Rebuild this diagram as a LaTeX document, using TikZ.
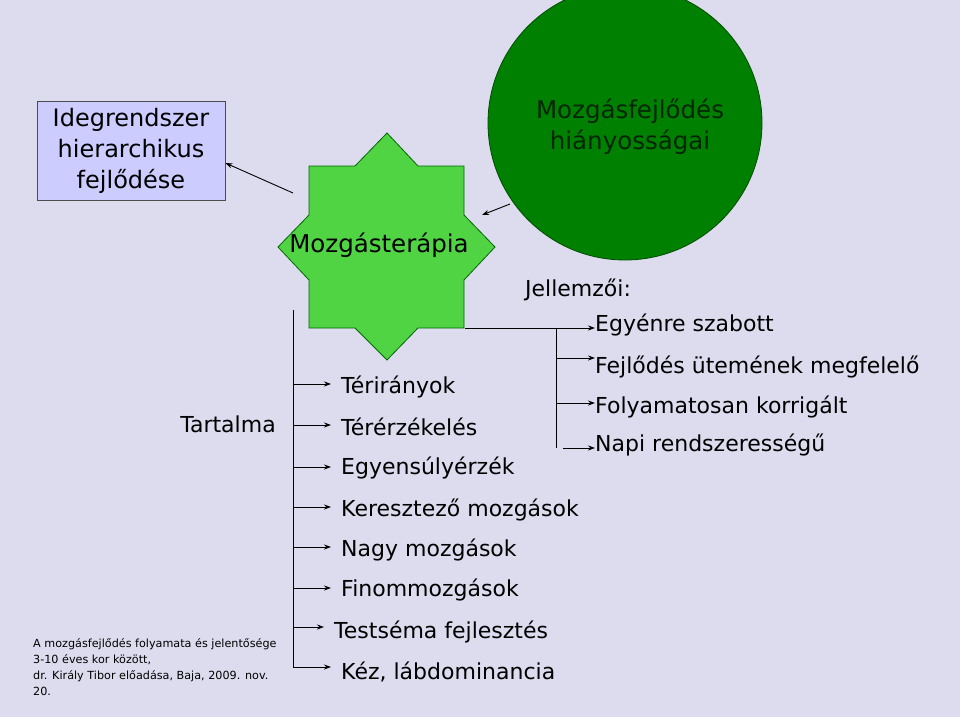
\documentclass[tikz,border=0pt]{standalone}
\usepackage{fontspec}
\setmainfont{DejaVu Sans}
\usetikzlibrary{arrows.meta}
\definecolor{bg}{HTML}{DCDCEE}
\definecolor{starf}{HTML}{50D444}
\definecolor{circf}{HTML}{008000}
\definecolor{boxf}{HTML}{CCCCFF}
\tikzset{
  lbl/.style={anchor=west,inner sep=0pt,font=\fontsize{22}{26}\selectfont},
  arr/.style={-{Stealth[length=7pt,width=5pt]},line width=0.9pt},
  plain/.style={line width=0.9pt},
}
\begin{document}
\begin{tikzpicture}[x=1pt,y=-1pt]
\fill[bg] (0,0) rectangle (960,717);
\useasboundingbox (0,0) rectangle (960,717);
\begin{scope}
\clip (0,0) rectangle (960,717);
\draw[fill=circf,draw=black!70!green,line width=0.8pt] (625,123) circle (137);
\end{scope}
\node[align=center,text=black!85!green,font=\fontsize{24.5}{31}\selectfont] (circ) at (630,127) {Mozgásfejlődés\\hiányosságai};
\draw[fill=starf,draw=black!60!green,line width=0.8pt]
 (387,133) -- (418,166) -- (464,166) -- (464,215) -- (495,247) -- (464,280) -- (464,328) -- (418,328) -- (387,360) -- (355,328) -- (309,328) -- (309,280) -- (278,247) -- (309,215) -- (309,166) -- (355,166) -- cycle;
\node[font=\fontsize{24.5}{28}\selectfont] (star) at (379,245) {Mozgásterápia};
\node[draw=black!70,fill=boxf,line width=0.8pt,minimum width=188pt,minimum height=99pt,align=center,font=\fontsize{24}{31}\selectfont] (box) at (131,151) {Idegrendszer\\hierarchikus\\fejlődése};
\coordinate (a1) at (293,193);
\draw[arr] (a1) -- (box.east |- 0,163) ;
\coordinate (a2) at (510,204);
\coordinate (a2e) at (482,215);
\draw[arr] (a2) -- (a2e);
\node[lbl] (jell) at (525,290) {Jellemzői:};
\node[lbl] (j1) at (595,325) {Egyénre szabott};
\node[lbl] (j2) at (595,367) {Fejlődés ütemének megfelelő};
\node[lbl] (j3) at (595,407) {Folyamatosan korrigált};
\node[lbl] (j4) at (595,445) {Napi rendszerességű};
\coordinate (s0) at (465,328);
\draw[arr] (s0) -- (j1.west |- 0,328);
\coordinate (v0) at (556,328); \coordinate (v1) at (556,448);
\draw[plain] (v0) -- (v1);
\draw[arr] (556,358) -- (j2.west |- 0,358);
\draw[arr] (556,403) -- (j3.west |- 0,403);
\draw[arr] (563,448) -- (j4.west |- 0,448);
\node[font=\fontsize{22}{26}\selectfont] (tart) at (228,424) {Tartalma};
\coordinate (l0) at (293,310); \coordinate (l1) at (293,667);
\draw[plain] (l0) -- (l1);
\foreach \n/\t/\y/\ay/\x in {t1/Térirányok/387/384/341, t2/Térérzékelés/427/425/341, t3/Egyensúlyérzék/468/467/341, t4/Keresztező mozgások/510/507/341, t5/Nagy mozgások/550/547/341, t6/Finommozgások/590/588/341, t7/Testséma fejlesztés/632/627/334, t8/{Kéz, lábdominancia}/672/667/341}{
  \node[lbl] (\n) at (\x,\y) {\t};
  \draw[arr] (293,\ay) -- (\x-10,\ay);
}
\node[anchor=north west,align=left,inner sep=0pt,font=\fontsize{11.2}{16}\selectfont] (foot) at (33,638) {A mozgásfejlődés folyamata és jelentősége\\3-10 éves kor között,\\dr. Király Tibor előadása, Baja, 2009. nov.\\20.};
\end{tikzpicture}
\end{document}
